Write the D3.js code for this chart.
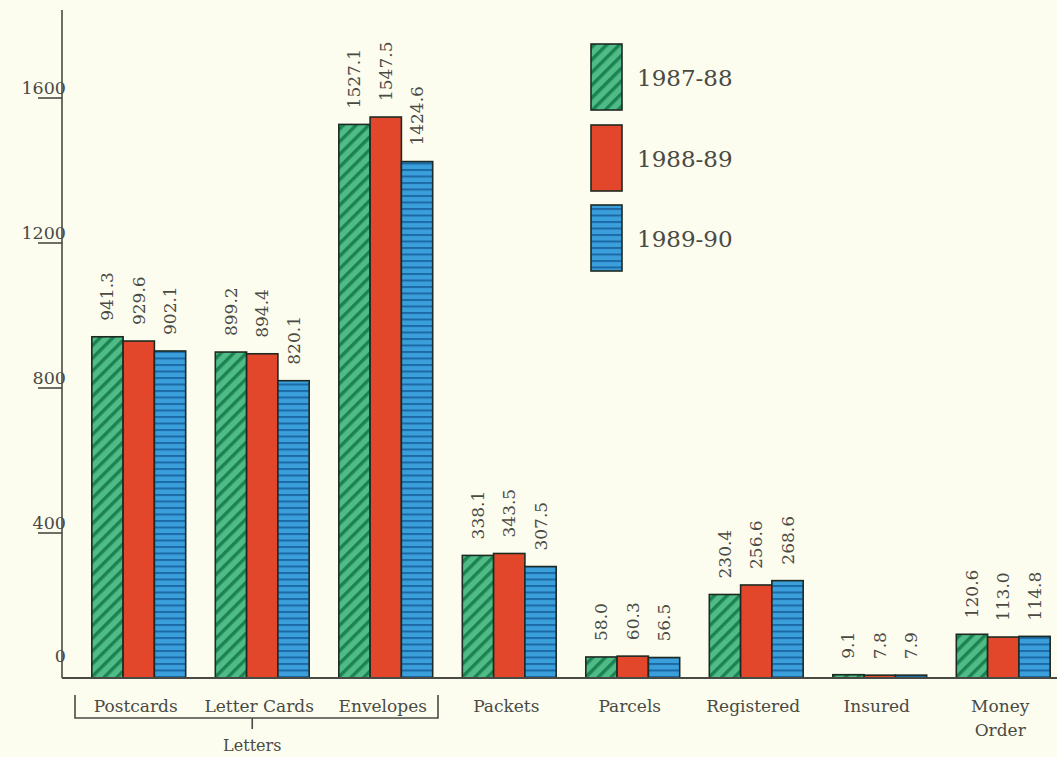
<!DOCTYPE html>
<html>
<head>
<meta charset="utf-8">
<script src="https://cdn.jsdelivr.net/npm/d3@7"></script>
<style>
  html, body { margin: 0; padding: 0; background: #fcfcef; }
  svg { display: block; }
  text { font-family: "DejaVu Serif", "Liberation Serif", serif; fill: #4a4a44; }
</style>
</head>
<body>
<svg id="chart" width="1057" height="757"></svg>
<script>
// Postal traffic (millions) by mail type, three fiscal years
const categories = ["Postcards", "Letter Cards", "Envelopes", "Packets", "Parcels", "Registered", "Insured", "Money Order"];
const seriesNames = ["1987-88", "1988-89", "1989-90"];
const values1987 = [941.3, 899.2, 1527.1, 338.1, 58.0, 230.4, 9.1, 120.6];
const values1988 = [929.6, 894.4, 1547.5, 343.5, 60.3, 256.6, 7.8, 113.0];
const values1989 = [902.1, 820.1, 1424.6, 307.5, 56.5, 268.6, 7.9, 114.8];
const valueLabels1987 = ["941.3", "899.2", "1527.1", "338.1", "58.0", "230.4", "9.1", "120.6"];
const valueLabels1988 = ["929.6", "894.4", "1547.5", "343.5", "60.3", "256.6", "7.8", "113.0"];
const valueLabels1989 = ["902.1", "820.1", "1424.6", "307.5", "56.5", "268.6", "7.9", "114.8"];
const yTicks = [0, 400, 800, 1200, 1600];
const letterGroup = ["Postcards", "Letter Cards", "Envelopes"];
const letterGroupLabel = "Letters";

const seriesValues = [values1987, values1988, values1989];
const seriesLabels = [valueLabels1987, valueLabels1988, valueLabels1989];

const svg = d3.select("#chart");

// fill patterns: green hatched, plain red, blue ruled
const defs = svg.append("defs");
const pGreen = defs.append("pattern").attr("id", "pat0")
  .attr("patternUnits", "userSpaceOnUse").attr("width", 9).attr("height", 9)
  .attr("patternTransform", "rotate(45)");
pGreen.append("rect").attr("width", 9).attr("height", 9).attr("fill", "#4fbb86");
pGreen.append("rect").attr("x", 0).attr("width", 3.4).attr("height", 9).attr("fill", "#1c8251");

const pRed = defs.append("pattern").attr("id", "pat1")
  .attr("patternUnits", "userSpaceOnUse").attr("width", 10).attr("height", 10);
pRed.append("rect").attr("width", 10).attr("height", 10).attr("fill", "#e2472c");

const pBlue = defs.append("pattern").attr("id", "pat2")
  .attr("patternUnits", "userSpaceOnUse").attr("width", 10).attr("height", 6.5);
pBlue.append("rect").attr("width", 10).attr("height", 6.5).attr("fill", "#3b9fdc");
pBlue.append("rect").attr("y", 0).attr("width", 10).attr("height", 2).attr("fill", "#1b6aa6");

const fills = ["url(#pat0)", "url(#pat1)", "url(#pat2)"];

// scales
const x0 = d3.scaleBand().domain(categories).range([77, 1065])
  .paddingInner(0.24).paddingOuter(0.12);
const x1 = d3.scaleBand().domain(d3.range(seriesNames.length)).range([0, x0.bandwidth()]);
const y = d3.scaleLinear().domain([0, 1600]).range([678, 98]);

const axisX = 62;

// bars
const groups = svg.append("g").selectAll("g")
  .data(categories).join("g")
  .attr("transform", d => `translate(${x0(d)},0)`);

groups.selectAll("rect")
  .data((d, i) => seriesValues.map((s, k) => ({ k, v: s[i] })))
  .join("rect")
  .attr("x", d => x1(d.k))
  .attr("width", x1.bandwidth())
  .attr("y", d => y(d.v))
  .attr("height", d => y(0) - y(d.v))
  .attr("fill", d => fills[d.k])
  .attr("stroke", "#1d2a22")
  .attr("stroke-width", 1.6);

// rotated value labels above each bar
groups.selectAll("text.val")
  .data((d, i) => seriesValues.map((s, k) => ({ k, v: s[i], t: seriesLabels[k][i] })))
  .join("text").attr("class", "val")
  .attr("transform", d => `translate(${x1(d.k) + x1.bandwidth() / 2 + 6},${y(d.v) - 16}) rotate(-90)`)
  .attr("text-anchor", "start")
  .attr("font-size", 17)
  .text(d => d.t);

// y axis line, ticks and labels
svg.append("line").attr("x1", axisX).attr("x2", axisX)
  .attr("y1", 10).attr("y2", y(0))
  .attr("stroke", "#4a4a44").attr("stroke-width", 1.6);

svg.append("g").selectAll("line").data(yTicks.filter(t => t > 0)).join("line")
  .attr("x1", 38).attr("x2", axisX)
  .attr("y1", d => y(d)).attr("y2", d => y(d))
  .attr("stroke", "#4a4a44").attr("stroke-width", 1.6);

svg.append("g").selectAll("text").data(yTicks).join("text")
  .attr("x", 66)
  .attr("y", d => y(d) - (d === 0 ? 16 : 4))
  .attr("text-anchor", "end")
  .attr("font-size", 17.5)
  .text(d => d);

// baseline
svg.append("line").attr("x1", axisX).attr("x2", 1057)
  .attr("y1", y(0)).attr("y2", y(0))
  .attr("stroke", "#4a4a44").attr("stroke-width", 2.2);

// category labels
const catY = 712;
svg.append("g").selectAll("text").data(categories).join("text")
  .attr("x", d => x0(d) + x0.bandwidth() / 2 - 3)
  .attr("y", catY)
  .attr("text-anchor", "middle")
  .attr("font-size", 17)
  .each(function (d) {
    const words = d === "Money Order" ? ["Money", "Order"] : [d];
    const t = d3.select(this);
    words.forEach((w, i) => t.append("tspan")
      .attr("x", x0(d) + x0.bandwidth() / 2 - 3)
      .attr("dy", i === 0 ? 0 : 24).text(w));
  });

// bracket grouping the three letter categories
const bx0 = 75, bx1 = 438, bTop = 695, bBot = 718;
const midX = (x0(letterGroup[0]) + x0(letterGroup[2]) + x0.bandwidth()) / 2 - 10;
const br = svg.append("g").attr("fill", "none").attr("stroke", "#4a4a44").attr("stroke-width", 1.6);
br.append("path").attr("d", `M${bx0},${bTop}V${bBot}H${bx1}V${bTop}`);
br.append("line").attr("x1", midX).attr("x2", midX).attr("y1", bBot).attr("y2", bBot + 11);
svg.append("text").attr("x", midX).attr("y", 751)
  .attr("text-anchor", "middle").attr("font-size", 16).text(letterGroupLabel);

// legend
const legend = svg.append("g");
const legY = [44, 125, 205];
seriesNames.forEach((name, k) => {
  legend.append("rect").attr("x", 591).attr("y", legY[k])
    .attr("width", 31).attr("height", 66)
    .attr("fill", fills[k]).attr("stroke", "#1d2a22").attr("stroke-width", 1.6);
  legend.append("text").attr("x", 637).attr("y", legY[k] + 42)
    .attr("font-size", 23).text(name);
});
</script>
</body>
</html>
